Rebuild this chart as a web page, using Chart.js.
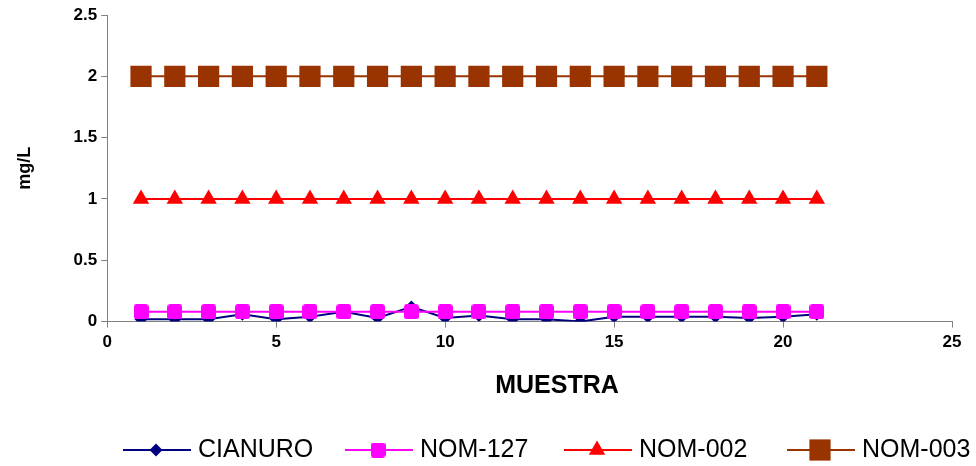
<!DOCTYPE html>
<html>
<head>
<meta charset="utf-8">
<script src="https://cdn.jsdelivr.net/npm/chart.js@4/dist/chart.umd.min.js"></script>
<style>
  html, body { margin: 0; padding: 0; background: #fff; }
  #wrap { width: 976px; height: 466px; position: relative; }
</style>
</head>
<body>
<div id="wrap"><canvas id="grafica"></canvas></div>
<script>
// muestras 1..21
var muestras = [1,2,3,4,5,6,7,8,9,10,11,12,13,14,15,16,17,18,19,20,21];
var cianuro = [0.02,0.02,0.02,0.06,0.02,0.04,0.08,0.03,0.12,0.03,0.05,0.02,0.02,0.0,0.04,0.04,0.04,0.04,0.03,0.04,0.06];
var nom127 = [0.08,0.08,0.08,0.08,0.08,0.08,0.08,0.08,0.08,0.08,0.08,0.08,0.08,0.08,0.08,0.08,0.08,0.08,0.08,0.08,0.08];
var nom002 = [1,1,1,1,1,1,1,1,1,1,1,1,1,1,1,1,1,1,1,1,1];
var nom003 = [2,2,2,2,2,2,2,2,2,2,2,2,2,2,2,2,2,2,2,2,2];
var xTicks = [0,5,10,15,20,25];
var yTicks = [0,0.5,1,1.5,2,2.5];

function puntos(vals){
    return muestras.map(function(m,i){ return {x:m, y:vals[i]}; });
}

// cuadro rosa con esquinas un poco redondeadas
function cuadroRosa(){
    var c = document.createElement('canvas');
    c.width = 15; c.height = 15;
    var g = c.getContext('2d');
    g.fillStyle = '#ff00ff';
    g.beginPath();
    g.roundRect(0, 0, 15, 15, 3);
    g.fill();
    return c;
}
var rosa = cuadroRosa();

var fuente = '"Liberation Sans", Arial, sans-serif';

// leyenda abajo (linea con marcador al centro) y titulo del eje x
var leyenda = {
    id: 'leyenda',
    afterDraw: function(chart){
        var ctx = chart.ctx;
        var pos = [123, 345, 564, 787];
        var y = 450;
        ctx.save();
        chart.data.datasets.forEach(function(ds, i){
            var x0 = pos[i];
            ctx.strokeStyle = ds.borderColor;
            ctx.lineWidth = 2;
            ctx.beginPath();
            ctx.moveTo(x0, y);
            ctx.lineTo(x0 + 68, y);
            ctx.stroke();
            ctx.fillStyle = ds.backgroundColor;
            Chart.helpers.drawPoint(ctx, {pointStyle: ds.pointStyle, radius: ds.pointRadius, borderWidth: 0}, x0 + 33, y);
            ctx.fillStyle = '#000';
            ctx.font = '25px ' + fuente;
            ctx.textBaseline = 'middle';
            ctx.fillText(ds.label, x0 + 75, y);
        });
        ctx.font = 'bold 25px ' + fuente;
        ctx.textAlign = 'center';
        ctx.textBaseline = 'middle';
        ctx.fillStyle = '#000';
        ctx.fillText('MUESTRA', 557, 386);
        ctx.restore();
    }
};

var ctx = document.getElementById('grafica');
var grafica = new Chart(ctx, {
    type: 'line',
    data: {
        datasets: [{
            label: 'CIANURO',
            data: puntos(cianuro),
            borderColor: '#000080',
            backgroundColor: '#000080',
            pointStyle: 'rectRot',
            pointRadius: 6.5,
            borderWidth: 2,
            pointBorderWidth: 0,
            order: 4
        },{
            label: 'NOM-127',
            data: puntos(nom127),
            borderColor: '#ff00ff',
            backgroundColor: '#ff00ff',
            pointStyle: rosa,
            pointRadius: 8,
            borderWidth: 2,
            pointBorderWidth: 0,
            order: 3
        },{
            label: 'NOM-002',
            data: puntos(nom002),
            borderColor: '#ff0000',
            backgroundColor: '#ff0000',
            pointStyle: 'triangle',
            pointRadius: 9.5,
            borderWidth: 2,
            pointBorderWidth: 0,
            order: 2
        },{
            label: 'NOM-003',
            data: puntos(nom003),
            borderColor: '#993300',
            backgroundColor: '#993300',
            pointStyle: 'rect',
            pointRadius: 15,
            borderWidth: 2,
            pointBorderWidth: 0,
            order: 1
        }]
    },
    options: {
        responsive: true,
        maintainAspectRatio: false,
        animation: false,
        layout: { padding: { left: 10, right: 24, top: 6, bottom: 108 } },
        plugins: {
            legend: { display: false },
            tooltip: { enabled: false }
        },
        scales: {
            x: {
                type: 'linear',
                min: 0, max: 25,
                afterBuildTicks: function(s){ s.ticks = xTicks.map(function(v){ return {value:v}; }); },
                grid: { drawOnChartArea: false, color: '#808080', tickLength: 6, tickColor: '#808080' },
                border: { color: '#808080', width: 1 },
                ticks: { color: '#000', font: { family: fuente, size: 17, weight: 'bold' }, padding: 5, maxRotation: 0 }
            },
            y: {
                min: 0, max: 2.5,
                afterBuildTicks: function(s){ s.ticks = yTicks.map(function(v){ return {value:v}; }); },
                grid: { drawOnChartArea: false, color: '#808080', tickLength: 6, tickColor: '#808080' },
                border: { color: '#808080', width: 1 },
                ticks: { color: '#000', font: { family: fuente, size: 17, weight: 'bold' }, padding: 4,
                    callback: function(v){ return String(v); } },
                title: { display: true, text: 'mg/L', color: '#000', font: { family: fuente, size: 18, weight: 'bold' }, padding: { bottom: 34 } }
            }
        }
    },
    plugins: [leyenda]
});
</script>
</body>
</html>
